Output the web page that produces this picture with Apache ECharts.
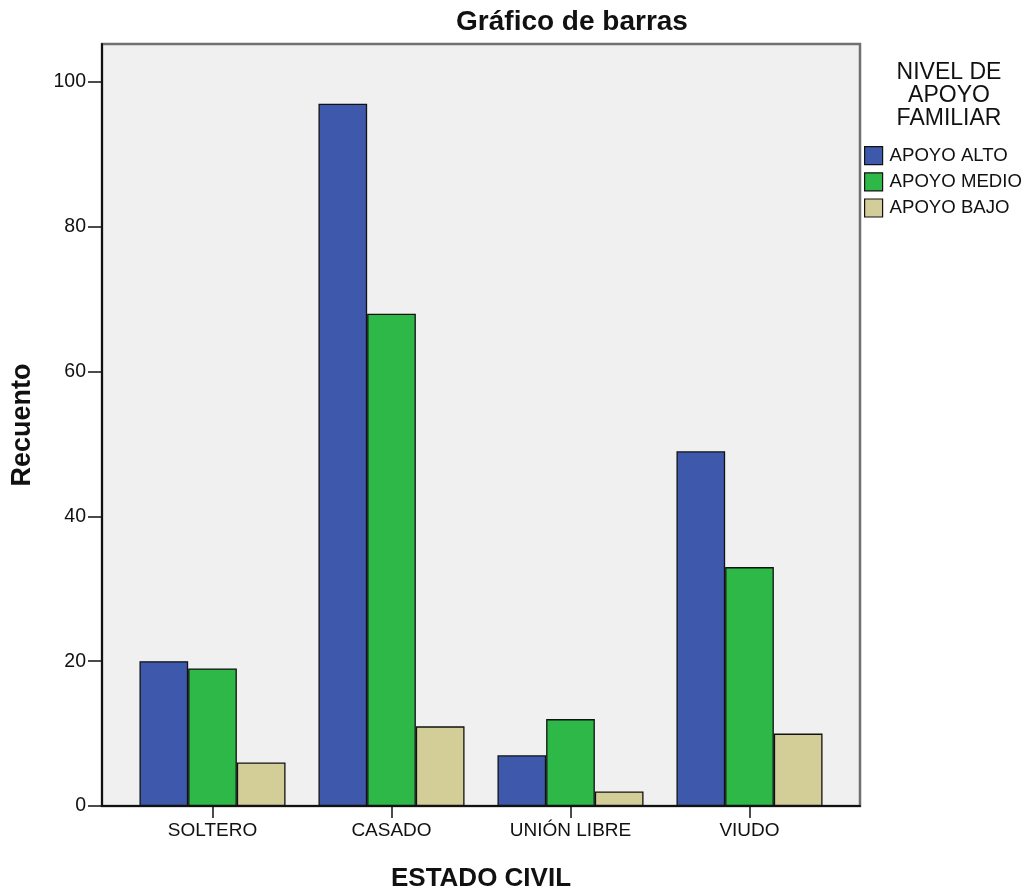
<!DOCTYPE html>
<html>
<head>
<meta charset="utf-8">
<script src="https://cdn.jsdelivr.net/npm/echarts@6/dist/echarts.min.js"></script>
<style>html,body{margin:0;padding:0;background:#fff}#c{width:1028px;height:892px}</style>
</head>
<body>
<div id="c"></div>
<script>
const categories = ['SOLTERO', 'CASADO', 'UNIÓN LIBRE', 'VIUDO'];
const apoyoAlto = [20, 97, 7, 49];
const apoyoMedio = [19, 68, 12, 33];
const apoyoBajo = [6, 11, 2, 10];
const seriesNames = ['APOYO ALTO', 'APOYO MEDIO', 'APOYO BAJO'];
const yTicks = [0, 20, 40, 60, 80, 100];

const FONT = '"Liberation Sans", Arial, sans-serif';
const colors = ['#3E58AC', '#2EB848', '#D3CE97'];

const chart = echarts.init(document.getElementById('c'), null, {renderer: 'canvas'});
const hidden = {show: false};
const bar = (name, data, i) => ({
  name: name, type: 'bar', xAxisIndex: 2, yAxisIndex: 2, data: data,
  barGap: '0%', barCategoryGap: '18.4%',
  itemStyle: {color: colors[i], borderColor: '#111', borderWidth: 1.3},
  emphasis: {disabled: true}
});

chart.setOption({
  animation: false,
  textStyle: {fontFamily: FONT},
  title: [
    {text: 'Gráfico de barras', left: 567, top: 3, textAlign: 'center',
     textStyle: {fontFamily: FONT, fontSize: 28, fontWeight: 'bold', color: '#111'}},
    {text: 'NIVEL DE\nAPOYO\nFAMILIAR', left: 944, top: 56, textAlign: 'center',
     textStyle: {fontFamily: FONT, fontSize: 23, fontWeight: 'normal', color: '#111', lineHeight: 23}}
  ],
  legend: {
    orient: 'vertical', left: 864, top: 146, padding: 0, itemWidth: 18, itemHeight: 18, itemGap: 7,
    icon: 'rect', data: seriesNames,
    itemStyle: {borderColor: '#111', borderWidth: 1.2},
    textStyle: {fontFamily: FONT, fontSize: 18.6, color: '#111', lineHeight: 18, padding: [0, 0, 0, 2]},
    selectedMode: false
  },
  grid: [
    {left: 102, right: 168, top: 44, bottom: 86, show: true, backgroundColor: '#F0F0F0',
     borderColor: '#707070', borderWidth: 2.5, containLabel: false, outerBoundsMode: 'none'},
    {left: 102, right: 168, top: 82, bottom: 86, containLabel: false, outerBoundsMode: 'none'},
    {left: 123, right: 189, top: 82, bottom: 86, containLabel: false, outerBoundsMode: 'none'}
  ],
  xAxis: [
    {gridIndex: 0, type: 'value', min: 0, max: 1, z: 5,
     axisLine: {show: true, lineStyle: {color: '#111', width: 2}},
     axisTick: hidden, axisLabel: hidden, splitLine: hidden,
     name: 'ESTADO CIVIL', nameLocation: 'middle', nameGap: 60,
     nameTextStyle: {fontFamily: FONT, fontSize: 26, fontWeight: 'bold', color: '#111'}},
    {gridIndex: 1, type: 'value', min: 0, max: 1, show: false},
    {gridIndex: 2, type: 'category', data: categories,
     axisLine: hidden,
     axisTick: {show: true, length: 12, alignWithLabel: true, lineStyle: {color: '#111', width: 1.5}},
     axisLabel: {margin: 15, fontFamily: FONT, fontSize: 19, color: '#111'},
     splitLine: hidden}
  ],
  yAxis: [
    {gridIndex: 0, type: 'value', min: 0, max: 1, z: 5,
     axisLine: {show: true, lineStyle: {color: '#111', width: 2}},
     axisTick: hidden, axisLabel: hidden, splitLine: hidden,
     name: 'Recuento', nameLocation: 'middle', nameGap: 66,
     nameTextStyle: {fontFamily: FONT, fontSize: 27, fontWeight: 'bold', color: '#111'}},
    {gridIndex: 1, type: 'value', min: yTicks[0], max: yTicks[yTicks.length - 1], interval: 20,
     axisLine: hidden,
     axisTick: {show: true, length: 14, lineStyle: {color: '#111', width: 1.5}},
     axisLabel: {margin: 16, fontFamily: FONT, fontSize: 19.5, color: '#111'},
     splitLine: hidden},
    {gridIndex: 2, type: 'value', min: yTicks[0], max: yTicks[yTicks.length - 1], show: false}
  ],
  series: [
    bar(seriesNames[0], apoyoAlto, 0),
    bar(seriesNames[1], apoyoMedio, 1),
    bar(seriesNames[2], apoyoBajo, 2)
  ]
});
</script>
</body>
</html>
